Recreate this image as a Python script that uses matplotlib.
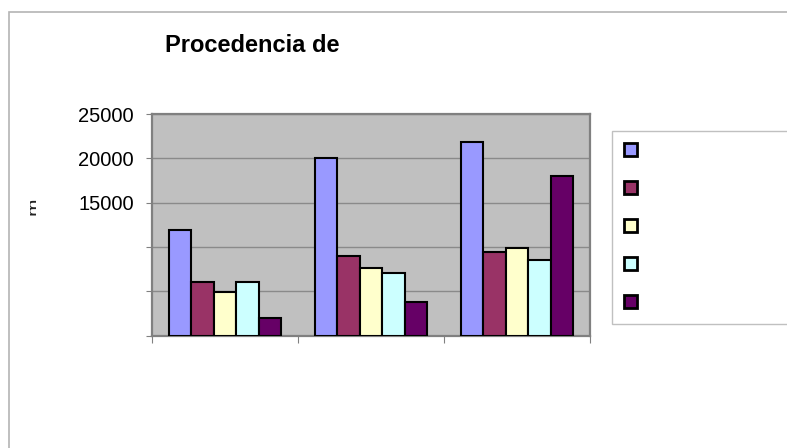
import numpy as np
import matplotlib.pyplot as plt
from matplotlib.patches import Rectangle

plt.rcParams['font.family'] = ['Liberation Sans', 'DejaVu Sans']

# data
categories = ['1', '2', '3']
serie_1 = [11900, 20000, 21850]
serie_2 = [6000, 9000, 9400]
serie_3 = [4900, 7650, 9900]
serie_4 = [6000, 7000, 8500]
serie_5 = [2000, 3800, 18000]
series = [serie_1, serie_2, serie_3, serie_4, serie_5]
colors = ['#9999FF', '#993366', '#FFFFCC', '#CCFFFF', '#660066']
y_ticks = [0, 5000, 10000, 15000, 20000, 25000]
y_labels = ['', '', '', '15000', '20000', '25000']

W, H = 787, 448
fig = plt.figure(figsize=(W / 100, H / 100), dpi=100)

# outer frame of the chart (only top/left visible)
fig.patches.append(Rectangle((9 / W, -0.5), 2.0, 1.5 - 12 / H,
                             transform=fig.transFigure, fill=False,
                             edgecolor='#b4b4b4', linewidth=1.2))

ax = fig.add_axes([152 / W, 1 - 335.5 / H, (590 - 152) / W, (335.5 - 114) / H])
ax.set_facecolor('#C0C0C0')

x = np.arange(len(categories))
group_w = 0.767
bar_w = group_w / len(series)
handles = []
for i, (vals, col) in enumerate(zip(series, colors)):
    offs = -group_w / 2 + bar_w * (i + 0.5)
    b = ax.bar(x + offs, vals, bar_w, color=col, edgecolor='black',
               linewidth=1.5, zorder=3)
    handles.append(b)

ax.set_xlim(-0.5, len(categories) - 0.5)
ax.set_ylim(0, 25000)
ax.set_yticks(y_ticks)
ax.set_yticklabels(y_labels, fontsize=14.5)
ax.set_xticks(np.arange(len(categories) + 1) - 0.5)
ax.set_xticklabels([])
ax.tick_params(axis='y', length=4, color='#808080', pad=9)
ax.tick_params(axis='x', length=5, color='#808080')
ax.grid(axis='y', color='#8a8a8a', linewidth=1, zorder=1)
for s in ax.spines.values():
    s.set_color('#808080')
    s.set_linewidth(1.6)

fig.text(252 / W, 1 - 45 / H, 'Procedencia de', fontsize=17, fontweight='bold',
         ha='center', va='center')

# clipped remains of the rotated axis title
t = fig.text(34 / W, 1 - 206 / H, 'm', fontsize=15, rotation=90,
             ha='center', va='center', color='#222222')
clip = Rectangle((29.5 / W, (H - 216) / H), 6 / W, 18 / H,
                 transform=fig.transFigure)
t.set_clip_path(clip)

leg = fig.legend(handles, [' ' * 60] * 5, loc='upper left',
                 bbox_to_anchor=(612 / W, 1 - 131 / H),
                 fontsize=14, handlelength=0.67, handleheight=0.67,
                 labelspacing=1.06, borderpad=0.6, handletextpad=0.5,
                 borderaxespad=0, fancybox=False, framealpha=1,
                 edgecolor='#c0c0c0')
leg.get_frame().set_linewidth(1)
for h in leg.legend_handles:
    h.set_linewidth(2)

fig.savefig('out.png', dpi=100)
